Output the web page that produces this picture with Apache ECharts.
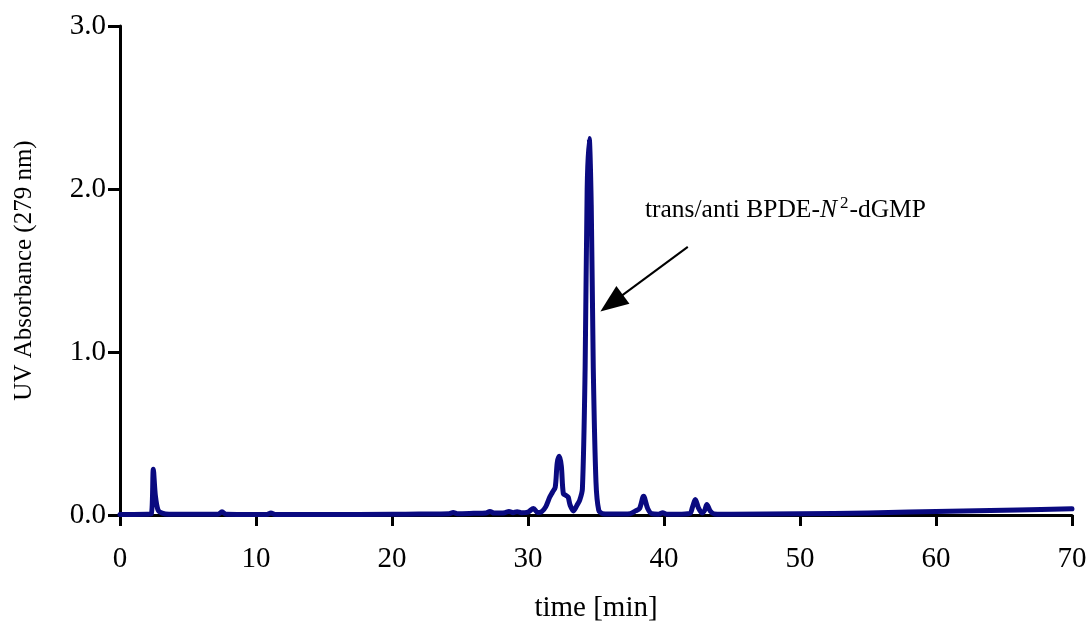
<!DOCTYPE html>
<html>
<head>
<meta charset="utf-8">
<script src="https://cdn.jsdelivr.net/npm/echarts@6/dist/echarts.min.js"></script>
<style>
  html, body { margin: 0; padding: 0; background: #fff; }
  #chart { width: 1091px; height: 630px; }
</style>
</head>
<body>
<div id="chart"></div>
<script>
// Retention time (min) and UV absorbance at 279 nm
const times = [
  0, 1.0, 2.0, 2.3, 2.45, 2.6, 2.8, 3.1, 3.6, 5, 7.2, 7.5, 7.8, 9, 10.8, 11.1, 11.4, 15, 20, 22,
  24.2, 24.5, 24.8, 26, 26.9, 27.2, 27.5, 28.3, 28.6, 28.9, 29.2, 29.5, 30.0, 30.4, 30.7, 31.0,
  31.3, 31.6, 31.8, 32.0, 32.15, 32.3, 32.45, 32.6, 32.8, 32.95, 33.1, 33.35, 33.6, 33.8, 34.0,
  34.2, 34.35, 34.5, 34.65, 34.8, 35.0, 35.2, 35.5, 36.5, 37.5, 37.9, 38.2, 38.5, 38.8, 39.1,
  39.6, 39.9, 40.2, 41, 41.9, 42.1, 42.3, 42.55, 42.8, 43.0, 43.15, 43.4, 43.7, 45, 50, 55, 58,
  62, 66, 70
];
const absorbance = [
  0.003, 0.003, 0.004, 0.006, 0.28, 0.12, 0.03, 0.012, 0.005, 0.004, 0.004, 0.02, 0.004, 0.003, 0.003, 0.012, 0.003, 0.003, 0.004, 0.006,
  0.008, 0.015, 0.008, 0.01, 0.012, 0.022, 0.012, 0.014, 0.022, 0.014, 0.02, 0.014, 0.018, 0.04, 0.015, 0.02,
  0.05, 0.11, 0.14, 0.17, 0.32, 0.36, 0.3, 0.13, 0.12, 0.11, 0.06, 0.025, 0.06, 0.09, 0.16,
  0.9, 2.0, 2.31, 1.9, 0.9, 0.2, 0.03, 0.008, 0.006, 0.008, 0.025, 0.04, 0.115, 0.04, 0.008,
  0.005, 0.014, 0.005, 0.005, 0.01, 0.05, 0.095, 0.04, 0.012, 0.03, 0.065, 0.025, 0.006, 0.004, 0.008, 0.012, 0.018,
  0.024, 0.03, 0.038
];
const xTicks = [0, 10, 20, 30, 40, 50, 60, 70];
const yTicks = [0, 1, 2, 3];

// Peak annotation: label anchor and arrow from label towards the main peak
const peakLabelAt = [38.6, 1.87];
const arrowFrom = [41.75, 1.645];
const arrowTo = [36.15, 1.3];

const serif = '"Liberation Serif", "DejaVu Serif", serif';
const chart = echarts.init(document.getElementById('chart'), null, { renderer: 'canvas' });

chart.setOption({
  animation: false,
  backgroundColor: '#ffffff',
  grid: { left: 120, right: 19, top: 26, bottom: 115, containLabel: false },
  xAxis: {
    type: 'value',
    min: xTicks[0],
    max: xTicks[xTicks.length - 1],
    interval: 10,
    name: 'time [min]',
    nameLocation: 'middle',
    nameGap: 79,
    nameTextStyle: { fontFamily: serif, fontSize: 29, color: '#000' },
    axisLine: { show: true, onZero: false, lineStyle: { color: '#000', width: 3 } },
    axisTick: { show: true, inside: false, length: 11, lineStyle: { color: '#000', width: 3 } },
    axisLabel: { fontFamily: serif, fontSize: 29, color: '#000', margin: 30 },
    splitLine: { show: false }
  },
  yAxis: {
    type: 'value',
    min: yTicks[0],
    max: yTicks[yTicks.length - 1],
    interval: 1,
    name: 'UV Absorbance (279 nm)',
    nameLocation: 'middle',
    nameGap: 83,
    nameTextStyle: { fontFamily: serif, fontSize: 25, color: '#000' },
    axisLine: { show: true, onZero: false, lineStyle: { color: '#000', width: 3 } },
    axisTick: { show: true, inside: false, length: 12, lineStyle: { color: '#000', width: 3 } },
    axisLabel: {
      fontFamily: serif, fontSize: 29, color: '#000', margin: 14,
      formatter: v => v.toFixed(1)
    },
    splitLine: { show: false }
  },
  series: [{
    type: 'line',
    data: times.map((t, i) => [t, absorbance[i]]),
    showSymbol: false,
    symbol: 'none',
    smooth: 0.3,
    lineStyle: { color: '#0a0a80', width: 5, join: 'round', cap: 'round' },
    silent: true,
    z: 3,
    markLine: {
      silent: true,
      symbol: ['none', 'triangle'],
      symbolSize: [22, 28],
      label: { show: false },
      lineStyle: { color: '#000', width: 2, type: 'solid' },
      itemStyle: { color: '#000' },
      emphasis: { disabled: true },
      data: [[{ coord: arrowFrom }, { coord: arrowTo }]]
    },
    markPoint: {
      silent: true,
      symbol: 'circle',
      symbolSize: 0,
      itemStyle: { color: 'transparent' },
      label: {
        show: true,
        position: 'right',
        distance: 0,
        formatter: '{a|trans/anti BPDE-}{i|N}{s|2}{a|-dGMP}',
        rich: {
          a: { fontFamily: serif, fontSize: 25.5, color: '#000', lineHeight: 30 },
          i: { fontFamily: serif, fontSize: 25.5, fontStyle: 'italic', color: '#000', lineHeight: 30 },
          s: { fontFamily: serif, fontSize: 17, color: '#000', lineHeight: 30, verticalAlign: 'top', padding: [0, 1, 0, 3] }
        }
      },
      data: [{ coord: peakLabelAt }]
    }
  }]
});
</script>
</body>
</html>
